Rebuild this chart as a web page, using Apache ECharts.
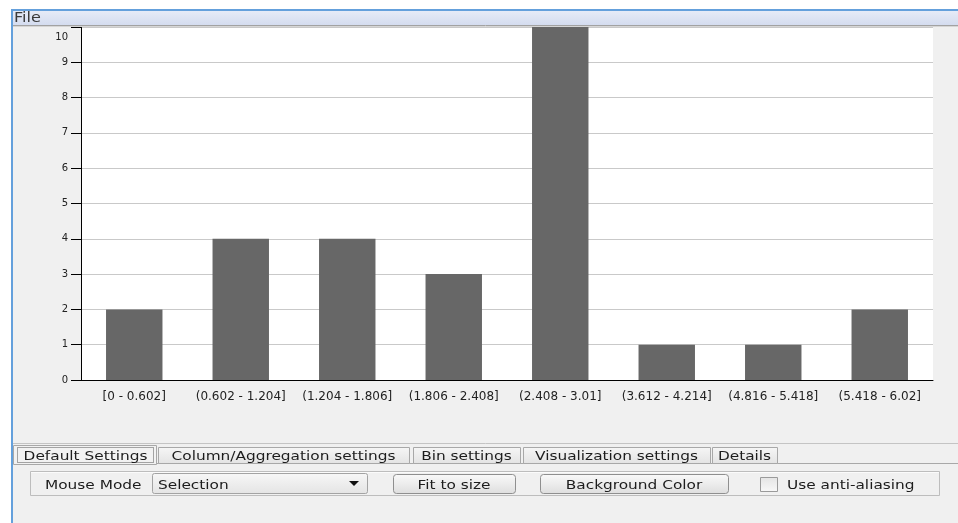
<!DOCTYPE html>
<html>
<head>
<meta charset="utf-8">
<script src="https://cdn.jsdelivr.net/npm/echarts@6/dist/echarts.min.js"></script>
<style>
  html, body { margin: 0; padding: 0; background: #ffffff; }
  #chart { width: 958px; height: 523px; }
</style>
</head>
<body>
<div id="chart"></div>
<script>
// Histogram bins and counts
const binLabels = ['[0 - 0.602]', '(0.602 - 1.204]', '(1.204 - 1.806]', '(1.806 - 2.408]',
                   '(2.408 - 3.01]', '(3.612 - 4.214]', '(4.816 - 5.418]', '(5.418 - 6.02]'];
const binCounts = [2, 4, 4, 3, 10, 1, 1, 2];
const countAxisMin = 0;
const countAxisMax = 10;
const countAxisStep = 1;

// Window chrome texts
const menuItems = ['File'];
const tabNames = ['Default Settings', 'Column/Aggregation settings', 'Bin settings', 'Visualization settings', 'Details'];
const mouseModeLabel = 'Mouse Mode';
const mouseModeValue = 'Selection';
const buttonNames = ['Fit to size', 'Background Color'];
const checkboxLabel = 'Use anti-aliasing';

const FONT = '"DejaVu Sans", Verdana, sans-serif';
const chart = echarts.init(document.getElementById('chart'), null, { renderer: 'canvas' });

function uiText(text, x, y, align, z) {
  return {
    type: 'text', x: x, y: y + 1.5, scaleX: 1.18, z: z || 20,
    style: { text: text, fontSize: 13, fontFamily: FONT, fill: '#1c1c1c',
             align: align || 'left', verticalAlign: 'middle' }
  };
}
function grad(c0, c1) {
  return new echarts.graphic.LinearGradient(0, 0, 0, 1, [
    { offset: 0, color: c0 }, { offset: 1, color: c1 }
  ]);
}
function rectEl(x, y, w, h, fill, stroke, r, z, dash) {
  return {
    type: 'rect', z: z || 10,
    shape: { x: x, y: y, width: w, height: h, r: r || 0 },
    style: { fill: fill || 'none', stroke: stroke || 'none', lineWidth: 1, lineDash: dash || null }
  };
}
function lineEl(x1, y1, x2, y2, color, w, z) {
  return { type: 'line', z: z || 10, shape: { x1: x1, y1: y1, x2: x2, y2: y2 },
           style: { stroke: color, lineWidth: w || 1 } };
}

const graphics = [];
// window body
graphics.push(rectEl(11, 9, 947, 514, '#f0f0f0', null, 0, -10));
// menu bar
graphics.push(rectEl(13, 11, 945, 14, grad('#e6ebf7', '#d4dcef'), null, 0, 5));
graphics.push({
  type: 'text', x: 14, y: 18, scaleX: 1.15, z: 6,
  style: { text: menuItems[0], fontSize: 14, fontFamily: FONT, fill: '#3a3a3a',
           align: 'left', verticalAlign: 'middle' }
});
graphics.push(lineEl(13, 25.5, 958, 25.5, '#a2a2a2', 1, 7));
graphics.push(lineEl(13, 26.5, 958, 26.5, '#d6d6d6', 1, 7));
// frame borders
graphics.push(rectEl(0, 0, 958, 9, '#ffffff', null, 0, 8));
graphics.push(lineEl(11, 10, 958, 10, '#64a0dc', 2, 9));
graphics.push(lineEl(12, 9, 12, 523, '#64a0dc', 2, 9));

// tab strip
graphics.push(lineEl(13, 443.5, 958, 443.5, '#c4c4c4', 1, 10));
graphics.push(lineEl(156, 463.5, 958, 463.5, '#a8a8a8', 1, 10));
graphics.push(rectEl(13.5, 445.5, 143, 19, '#f2f2f2', '#a8a8a8', 0, 11));
graphics.push(rectEl(17.5, 447.5, 136, 15, null, '#555555', 0, 12, [1, 1]));
graphics.push(uiText(tabNames[0], 85.5, 455, 'center', 13));
const tabSpans = [[158, 409], [413, 520], [523, 710], [712, 777]];
tabSpans.forEach(function (s, i) {
  graphics.push(rectEl(s[0] + 0.5, 447.5, s[1] - s[0], 16, grad('#f6f6f6', '#e3e3e3'), '#a8a8a8', 0, 11));
  graphics.push(uiText(tabNames[i + 1], (s[0] + s[1]) / 2, 455.5, 'center', 13));
});

// settings panel
graphics.push(rectEl(30.5, 471.5, 909, 24, null, '#bdbdbd', 0, 10));
graphics.push(lineEl(31, 472.5, 939, 472.5, '#fbfbfb', 1, 10));
graphics.push(uiText(mouseModeLabel, 45, 484, 'left'));
graphics.push(rectEl(152.5, 473.5, 215, 20, grad('#f7f7f7', '#e4e4e4'), '#a3a3a3', 2, 11));
graphics.push(uiText(mouseModeValue, 158, 484, 'left'));
graphics.push({ type: 'polygon', z: 21, shape: { points: [[349, 481], [359, 481], [354, 486]] },
                style: { fill: '#111111' } });
const buttonSpans = [[393, 515], [540, 728]];
buttonSpans.forEach(function (s, i) {
  graphics.push(rectEl(s[0] + 0.5, 474.5, s[1] - s[0], 19, grad('#fafafa', '#dedede'), '#8f8f8f', 3, 11));
  graphics.push(uiText(buttonNames[i], (s[0] + s[1]) / 2, 484, 'center'));
});
graphics.push(rectEl(760.5, 477.5, 17, 14, grad('#e4e4e4', '#f8f8f8'), '#9a9a9a', 0, 11));
graphics.push(uiText(checkboxLabel, 787, 484, 'left'));

const option = {
  backgroundColor: '#ffffff',
  animation: false,
  grid: {
    left: 81, right: 25, top: 27, bottom: 143,
    show: true, backgroundColor: '#ffffff', borderWidth: 0
  },
  xAxis: {
    type: 'category',
    data: binLabels,
    axisLine: { lineStyle: { color: '#000000', width: 1 } },
    axisTick: { alignWithLabel: true, length: 6, lineStyle: { color: '#000000' } },
    axisLabel: { margin: 11, fontFamily: FONT, fontSize: 12, color: '#222222', interval: 0 },
    splitLine: { show: false }
  },
  yAxis: {
    type: 'value',
    min: countAxisMin, max: countAxisMax, interval: countAxisStep,
    axisLine: { show: true, lineStyle: { color: '#000000', width: 1 } },
    axisTick: { show: true, length: 10, lineStyle: { color: '#000000' } },
    axisLabel: {
      margin: 13, fontFamily: FONT, fontSize: 10, color: '#222222',
      formatter: function (v) { return v === countAxisMax ? '{top|' + v + '}' : String(v); },
      rich: { top: { fontFamily: FONT, fontSize: 10, color: '#222222', padding: [20, 0, 0, 0] } }
    },
    splitLine: { show: true, lineStyle: { color: '#c9c9c9', width: 1 } }
  },
  series: [{
    type: 'bar',
    data: binCounts,
    barWidth: '53%',
    itemStyle: { color: '#676767' }
  }],
  graphic: graphics
};
chart.setOption(option);
</script>
</body>
</html>
